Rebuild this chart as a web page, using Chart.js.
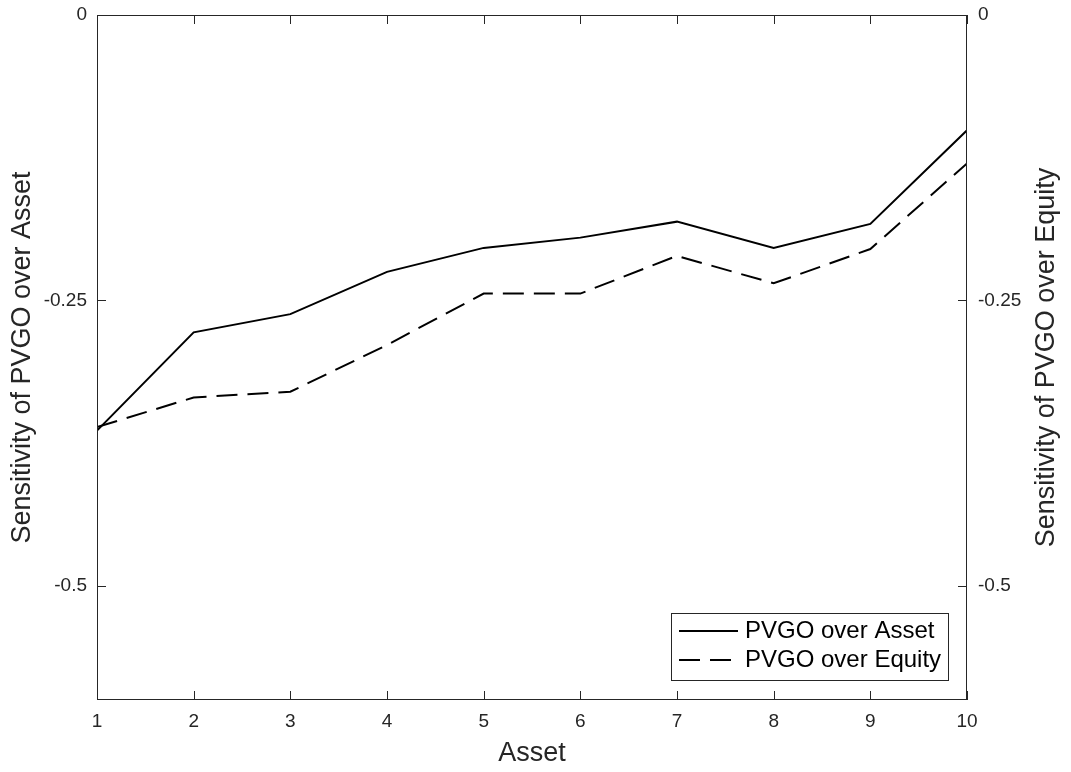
<!DOCTYPE html>
<html>
<head>
<meta charset="utf-8">
<script src="https://cdn.jsdelivr.net/npm/chart.js@4/dist/chart.umd.min.js"></script>
<style>
  html, body { margin: 0; padding: 0; background: #fff; }
  #wrap { width: 1071px; height: 772px; }
</style>
</head>
<body>
<div id="wrap"><canvas id="sensChart" width="1071" height="772"></canvas></div>
<script>
// values
const assetIdx = [1, 2, 3, 4, 5, 6, 7, 8, 9, 10];
const pvgoAsset = [-0.364, -0.278, -0.262, -0.225, -0.204, -0.195, -0.181, -0.204, -0.183, -0.101];
const pvgoEquity = [-0.361, -0.335, -0.330, -0.289, -0.244, -0.244, -0.211, -0.235, -0.205, -0.130];
const yTickVals = [-0.5, -0.25, 0];
const seriesNames = ['PVGO over Asset', 'PVGO over Equity'];

const FONT = "'Liberation Sans', Arial, Helvetica, sans-serif";
const AXIS_COLOR = '#262626';

function points(ys) {
    return assetIdx.map(function (x, i) { return { x: x, y: ys[i] }; });
}

// box round the plot, inward ticks, right title and legend (MATLAB look)
const matlabAxes = {
    id: 'matlabAxes',
    afterDraw: function (chart) {
        const ctx = chart.ctx;
        const a = chart.chartArea;
        const xs = chart.scales.x;
        const ys = chart.scales.y;
        const tick = 9;

        ctx.save();
        ctx.strokeStyle = AXIS_COLOR;
        ctx.lineWidth = 1;
        ctx.strokeRect(a.left + 0.5, a.top + 0.5, a.right - a.left - 1, a.bottom - a.top - 1);

        ctx.beginPath();
        xs.ticks.forEach(function (t) {
            const px = Math.round(xs.getPixelForValue(t.value)) + 0.5;
            ctx.moveTo(px, a.bottom);
            ctx.lineTo(px, a.bottom - tick);
            ctx.moveTo(px, a.top);
            ctx.lineTo(px, a.top + tick);
        });
        ys.ticks.forEach(function (t) {
            const py = Math.round(ys.getPixelForValue(t.value)) + 0.5;
            ctx.moveTo(a.left, py);
            ctx.lineTo(a.left + tick, py);
            ctx.moveTo(a.right, py);
            ctx.lineTo(a.right - tick, py);
        });
        ctx.stroke();

        // right axis title, reading bottom to top like the left one
        ctx.fillStyle = AXIS_COLOR;
        ctx.font = '27px ' + FONT;
        ctx.textAlign = 'center';
        ctx.textBaseline = 'middle';
        ctx.translate(1047, (a.top + a.bottom) / 2);
        ctx.rotate(-Math.PI / 2);
        ctx.fillText('Sensitivity of PVGO over Equity', 0, 0);
        ctx.restore();

        // legend box
        ctx.save();
        const lx = 671, ly = 613, lw = 277, lh = 67;
        ctx.fillStyle = '#fff';
        ctx.fillRect(lx, ly, lw, lh);
        ctx.strokeStyle = AXIS_COLOR;
        ctx.lineWidth = 1;
        ctx.strokeRect(lx + 0.5, ly + 0.5, lw, lh);
        ctx.font = '24px ' + FONT;
        ctx.textAlign = 'left';
        ctx.textBaseline = 'middle';
        chart.data.datasets.forEach(function (ds, i) {
            const rowY = ly + 18 + i * 29;
            ctx.strokeStyle = ds.borderColor;
            ctx.lineWidth = ds.borderWidth;
            ctx.setLineDash(ds.borderDash || []);
            ctx.beginPath();
            ctx.moveTo(lx + 8, rowY);
            ctx.lineTo(lx + 67, rowY);
            ctx.stroke();
            ctx.setLineDash([]);
            ctx.fillStyle = '#000';
            ctx.fillText(ds.label, lx + 74, rowY);
        });
        ctx.restore();
    }
};

function fixWidth(w) {
    return function (scale) {
        scale.width = w;
        scale.paddingTop = 0;
        scale.paddingBottom = 0;
    };
}

const yScaleBase = {
    type: 'linear',
    min: -0.6,
    max: 0,
    grid: { display: false, drawTicks: false },
    border: { display: false },
    afterBuildTicks: function (scale) {
        scale.ticks = yTickVals.map(function (v) { return { value: v }; });
    },
    ticks: {
        color: AXIS_COLOR,
        font: { family: FONT, size: 19 },
        callback: function (v) { return String(v); }
    }
};

new Chart(document.getElementById('sensChart'), {
    type: 'line',
    data: {
        datasets: [{
            label: seriesNames[0],
            data: points(pvgoAsset),
            borderColor: '#000',
            borderWidth: 2,
            pointRadius: 0,
            tension: 0,
            yAxisID: 'y'
        }, {
            label: seriesNames[1],
            data: points(pvgoEquity),
            borderColor: '#000',
            borderWidth: 2,
            borderDash: [21, 10],
            pointRadius: 0,
            tension: 0,
            yAxisID: 'y2'
        }]
    },
    options: {
        responsive: false,
        animation: false,
        devicePixelRatio: 1,
        layout: { padding: { top: 15, left: 0, right: 0, bottom: 0 } },
        plugins: {
            legend: { display: false },
            tooltip: { enabled: false }
        },
        scales: {
            x: {
                type: 'linear',
                min: 1,
                max: 10,
                grid: { display: false, drawTicks: false },
                border: { display: false },
                afterFit: function (scale) {
                    scale.height = 72;
                    scale.paddingLeft = 0;
                    scale.paddingRight = 0;
                },
                ticks: {
                    stepSize: 1,
                    padding: 10,
                    color: AXIS_COLOR,
                    font: { family: FONT, size: 19 }
                },
                title: {
                    display: true,
                    text: 'Asset',
                    color: AXIS_COLOR,
                    font: { family: FONT, size: 27 },
                    padding: { top: 0, bottom: 2 }
                }
            },
            y: Object.assign({}, yScaleBase, {
                position: 'left',
                afterFit: fixWidth(97),
                ticks: Object.assign({}, yScaleBase.ticks, { padding: 10 }),
                title: {
                    display: true,
                    text: 'Sensitivity of PVGO over Asset',
                    color: AXIS_COLOR,
                    font: { family: FONT, size: 27 },
                    padding: { top: 6, bottom: 0 }
                }
            }),
            y2: Object.assign({}, yScaleBase, {
                position: 'right',
                afterFit: fixWidth(104),
                ticks: Object.assign({}, yScaleBase.ticks, { padding: 11 })
            })
        }
    },
    plugins: [matlabAxes]
});
</script>
</body>
</html>
